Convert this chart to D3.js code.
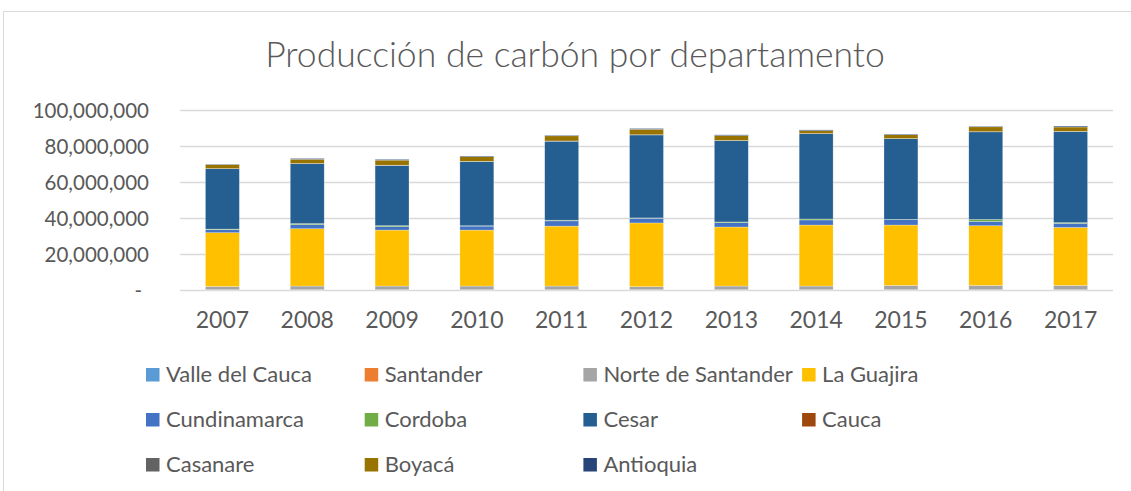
<!DOCTYPE html>
<html>
<head>
<meta charset="utf-8">
<script src="https://cdn.jsdelivr.net/npm/d3@7"></script>
<style>
  body { margin: 0; background: #fff; }
  text { font-family: Lato, "Liberation Sans", sans-serif; fill: #595959; }
</style>
</head>
<body>
<div id="chart"></div>
<script>
const width = 1131
const height = 491

// Data (tonnes in millions)
const years = ["2007", "2008", "2009", "2010", "2011", "2012", "2013", "2014", "2015", "2016", "2017"]
const departments = ["Valle del Cauca", "Santander", "Norte de Santander", "La Guajira", "Cundinamarca", "Cordoba", "Cesar", "Cauca", "Casanare", "Boyacá", "Antioquia"]
const colors = ["#5B9BD5", "#ED7D31", "#A5A5A5", "#FFC000", "#4472C4", "#70AD47", "#255E91", "#9E480E", "#636363", "#997300", "#264478"]

const valleDelCauca    = [0.05, 0.05, 0.05, 0.05, 0.05, 0.05, 0.05, 0.05, 0.05, 0.05, 0.05]
const santander        = [0.1, 0.1, 0.1, 0.1, 0.1, 0.1, 0.1, 0.1, 0.1, 0.1, 0.1]
const norteDeSantander = [1.8, 2.05, 2.05, 2.05, 2.05, 1.7, 2.05, 2.05, 2.4, 2.4, 2.4]
const laGuajira        = [29.9, 31.85, 31.1, 31.1, 33.3, 35.4, 32.8, 33.9, 33.55, 33.15, 32.2]
const cundinamarca     = [1.6, 2.3, 1.85, 2.2, 2.9, 2.6, 2.4, 2.8, 2.95, 2.4, 2.2]
const cordoba          = [0.4, 0.55, 0.6, 0.2, 0.4, 0.2, 0.4, 0.55, 0.2, 1.1, 0.5]
const cesar            = [33.5, 33.3, 33.5, 35.7, 43.9, 46.1, 45.2, 47.4, 44.8, 48.65, 50.6]
const cauca            = [0.05, 0.05, 0.05, 0.05, 0.05, 0.05, 0.05, 0.05, 0.05, 0.05, 0.05]
const casanare         = [0.05, 0.05, 0.05, 0.05, 0.05, 0.05, 0.05, 0.05, 0.05, 0.05, 0.05]
const boyaca           = [2.2, 2.35, 2.8, 2.55, 2.85, 3.05, 2.7, 1.6, 2.1, 2.7, 2.4]
const antioquia        = [0.2, 0.4, 0.4, 0.35, 0.35, 0.4, 0.4, 0.4, 0.4, 0.35, 0.5]

const yTicks = [0, 20000000, 40000000, 60000000, 80000000, 100000000]

const seriesValues = [valleDelCauca, santander, norteDeSantander, laGuajira, cundinamarca, cordoba, cesar, cauca, casanare, boyaca, antioquia]

// Table for d3.stack
const table = years.map((yr, i) => {
    const row = {year: yr}
    departments.forEach((dep, j) => row[dep] = seriesValues[j][i] * 1e6)
    return row
})

const svg = d3.select("div#chart").append("svg").attr("width", width).attr("height", height)

// Chart frame
svg.append("rect")
    .attr("x", 3.5).attr("y", 11.5)
    .attr("width", 1300).attr("height", 700)
    .attr("fill", "#fff").attr("stroke", "#d9d9d9").attr("stroke-width", 1)

// Title
const title = svg.append("text")
    .attr("x", 575).attr("y", 67)
    .attr("text-anchor", "middle")
    .style("font-weight", 300)
    .style("font-size", "32px")
    .text("Producción de carbón por departamento")
const tw = title.node().getComputedTextLength()
title.style("font-size", (32 * 620 / tw) + "px")

// Scales
const x = d3.scaleBand().domain(years).range([180, 1113]).paddingInner(0.6).paddingOuter(0.3)
const y = d3.scaleLinear().domain([0, 100000000]).range([290, 110])

// Gridlines + y axis
const fmt = d3.format(",")
const yAxis = d3.axisLeft(y).tickValues(yTicks).tickSize(-(1113 - 180))
    .tickFormat(d => d === 0 ? "-" : fmt(d))
const yAxisGroup = svg.append("g").attr("transform", "translate(180, 0)").call(yAxis)
yAxisGroup.select(".domain").remove()
yAxisGroup.selectAll(".tick line").attr("stroke", "#d9d9d9").attr("stroke-width", 1.5)
yAxisGroup.selectAll(".tick text")
    .attr("x", -31).attr("dy", "0.35em")
    .style("font-size", "20.5px")
    .style("font-family", "Lato, sans-serif")
    .attr("fill", "#595959")
yAxisGroup.selectAll(".tick text").filter(d => d === 0).attr("x", -38)

// Stacked bars
const stack = d3.stack().keys(departments)
const layers = stack(table)
const barsGroup = svg.append("g")
barsGroup.selectAll("g.layer")
    .data(layers)
    .enter().append("g")
    .attr("class", "layer")
    .attr("fill", (d, i) => colors[i])
    .selectAll("rect")
    .data(d => d)
    .enter().append("rect")
    .attr("x", d => x(d.data.year))
    .attr("y", d => y(d[1]))
    .attr("width", x.bandwidth())
    .attr("height", d => y(d[0]) - y(d[1]))
    .attr("stroke", "#fff").attr("stroke-width", 0.5).attr("stroke-opacity", 0.5)

// x axis labels
const xAxis = d3.axisBottom(x).tickSize(0).tickPadding(0)
const xAxisGroup = svg.append("g").attr("transform", "translate(0, 290)").call(xAxis)
xAxisGroup.select(".domain").remove()
xAxisGroup.selectAll(".tick text")
    .attr("y", 38).attr("dy", 0)
    .style("font-size", "23px")
    .style("font-family", "Lato, sans-serif")
    .attr("fill", "#595959")

// Legend: 4 columns, 3 rows
const legend = svg.append("g")
const items = legend.selectAll("g.item")
    .data(departments)
    .enter().append("g")
    .attr("class", "item")
    .attr("transform", (d, i) => `translate(${146 + (i % 4) * 218.7}, ${368 + Math.floor(i / 4) * 45})`)
items.append("rect")
    .attr("width", 13.5).attr("height", 13.5)
    .attr("fill", (d, i) => colors[i])
items.append("text")
    .attr("x", 20).attr("y", 13.7)
    .style("font-size", "22px")
    .text(d => d)
</script>
</body>
</html>
